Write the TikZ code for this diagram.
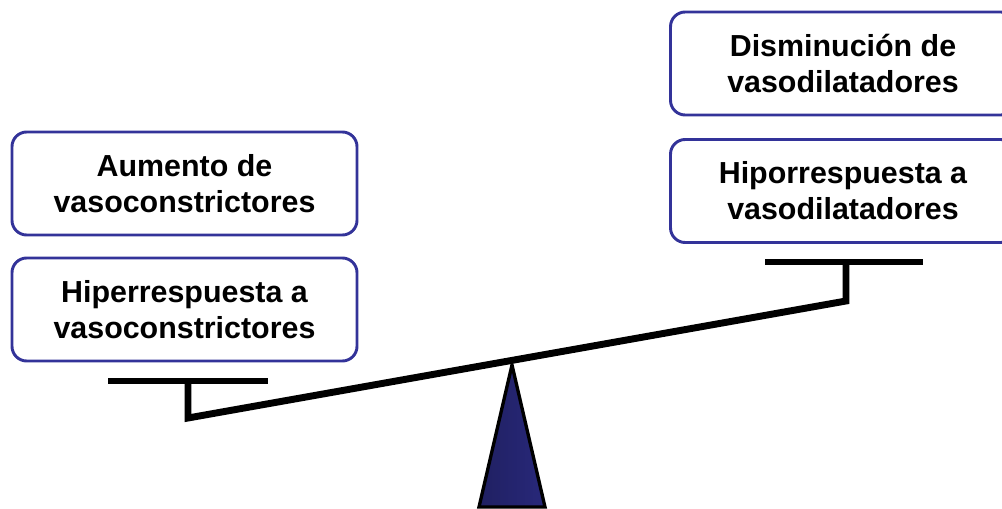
\documentclass[tikz,border=0pt]{standalone}
\usepackage{fontspec}
\setmainfont{Liberation Sans}
\definecolor{boxblue}{HTML}{333399}
\definecolor{navy}{HTML}{28287A}
\begin{document}
\begin{tikzpicture}[x=0.75pt,y=-0.75pt,
  tbox/.style={draw=boxblue,line width=2.2pt,rounded corners=11pt,fill=white,
    minimum width=345*0.75pt,minimum height=103*0.75pt,align=center,
    font=\fontsize{22.8}{27}\selectfont\bfseries,inner sep=0pt},
  beam/.style={line width=5.2pt,line cap=butt,line join=miter}]
\useasboundingbox (0,0) rectangle (1002,509);
% boxes
\node[tbox] (lt) at (184.5,183.5) {Aumento de\\vasoconstrictores};
\node[tbox] (lb) at (184.5,309.5) {Hiperrespuesta a\\vasoconstrictores};
\node[tbox] (rt) at (843,63.5) {Disminución de\\vasodilatadores};
\node[tbox] (rb) at (843,191) {Hiporrespuesta a\\vasodilatadores};
% fulcrum
\coordinate (apex) at (512,365);
\coordinate (bl) at (479,507);
\coordinate (br) at (545,507);
\filldraw[draw=black,line width=2.5pt,line join=miter,left color=navy!80!black,right color=navy]
  (apex) -- (br) -- (bl) -- cycle;
% beam
\coordinate (lbarl) at (108,381);
\coordinate (lbarr) at (268,381);
\coordinate (lstem) at (188,381);
\coordinate (lend) at (188,418);
\coordinate (rbarl) at (765,262);
\coordinate (rbarr) at (923,262);
\coordinate (rstem) at (846,262);
\coordinate (rend) at (846,301);
\draw[beam] (lbarl) -- (lbarr);
\draw[beam] (rbarl) -- (rbarr);
\draw[beam] (lstem) -- (lend) -- (rend) -- (rstem);
\end{tikzpicture}
\end{document}
